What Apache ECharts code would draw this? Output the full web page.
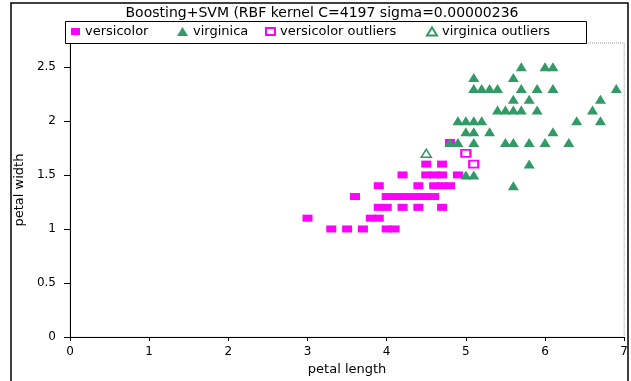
<!DOCTYPE html>
<html>
<head>
<meta charset="utf-8">
<title>Boosting+SVM</title>
<script src="https://cdn.jsdelivr.net/npm/echarts@6/dist/echarts.min.js"></script>
<style>
	html, body { margin: 0; padding: 0; background: #fff; }
	#chart { width: 631px; height: 381px; }
</style>
</head>
<body>
<div id="chart"></div>
<script>
// 데이터 [petal length, petal width]
var versicolor = [
	[3.3, 1.0], [3.5, 1.0], [3.7, 1.0], [4.0, 1.0], [4.1, 1.0],
	[3.0, 1.1], [3.8, 1.1], [3.9, 1.1],
	[3.9, 1.2], [4.0, 1.2], [4.2, 1.2], [4.4, 1.2], [4.7, 1.2],
	[3.6, 1.3], [4.0, 1.3], [4.1, 1.3], [4.2, 1.3], [4.3, 1.3], [4.4, 1.3], [4.5, 1.3], [4.6, 1.3],
	[3.9, 1.4], [4.4, 1.4], [4.6, 1.4], [4.7, 1.4], [4.8, 1.4],
	[4.2, 1.5], [4.5, 1.5], [4.6, 1.5], [4.7, 1.5], [4.9, 1.5],
	[4.5, 1.6], [4.7, 1.6],
	[4.8, 1.8]
];
var virginica = [
	[5.6, 1.4],
	[5.0, 1.5], [5.1, 1.5],
	[5.8, 1.6],
	[4.8, 1.8], [4.9, 1.8], [5.1, 1.8], [5.5, 1.8], [5.6, 1.8], [5.8, 1.8], [6.0, 1.8], [6.3, 1.8],
	[5.0, 1.9], [5.1, 1.9], [5.3, 1.9], [6.1, 1.9],
	[4.9, 2.0], [5.0, 2.0], [5.1, 2.0], [5.2, 2.0], [6.4, 2.0], [6.7, 2.0],
	[5.4, 2.1], [5.5, 2.1], [5.6, 2.1], [5.7, 2.1], [5.9, 2.1], [6.6, 2.1],
	[5.6, 2.2], [5.8, 2.2], [6.7, 2.2],
	[5.1, 2.3], [5.2, 2.3], [5.3, 2.3], [5.4, 2.3], [5.7, 2.3], [5.9, 2.3], [6.1, 2.3], [6.9, 2.3],
	[5.1, 2.4], [5.6, 2.4],
	[5.7, 2.5], [6.0, 2.5], [6.1, 2.5]
];
var versicolorOutliers = [[5.0, 1.7], [5.1, 1.6]];
var virginicaOutliers = [[4.5, 1.7]];

var seriesNames = ['versicolor', 'virginica', 'versicolor outliers', 'virginica outliers'];
var yTicks = [0, 0.5, 1, 1.5, 2, 2.5];

var MAGENTA = '#ff00ff';
var GREEN = '#339966';
var FONT = 'DejaVu Sans';

showIrisChart();

// 범례 하나 (항목별 위치 지정)
function legendItem(name, left, w, h) {
	return {
		data: [name],
		left: left,
		top: 25,
		padding: 0,
		itemWidth: w,
		itemHeight: h,
		itemGap: 0,
		selectedMode: false,
		textStyle: { fontFamily: FONT, fontSize: 13, color: '#000' }
	};
}

function showIrisChart() {
	var chart = echarts.init(document.getElementById('chart'), null, { renderer: 'canvas' });
	var option = {
		animation: false,
		backgroundColor: '#fff',
		title: {
			text: 'Boosting+SVM (RBF kernel C=4197 sigma=0.00000236',
			left: 322,
			textAlign: 'center',
			top: 6,
			padding: 0,
			textStyle: { fontFamily: FONT, fontSize: 14, fontWeight: 'normal', color: '#000' }
		},
		legend: [
			legendItem(seriesNames[0], 71, 9, 7),
			legendItem(seriesNames[1], 177, 11, 9),
			legendItem(seriesNames[2], 265, 9, 7),
			legendItem(seriesNames[3], 426, 10, 8)
		],
		graphic: [
			{ // 바깥 테두리
				type: 'rect', z: 0, silent: true,
				shape: { x: 11, y: 3, width: 617, height: 400 },
				style: { fill: null, stroke: '#000', lineWidth: 1.5 }
			},
			{ // 범례 박스
				type: 'rect', z: 3, silent: true,
				shape: { x: 65.5, y: 21.5, width: 521, height: 22 },
				style: { fill: '#fff', stroke: '#000', lineWidth: 1 }
			}
		],
		grid: {
			left: 70, right: 6, top: 43, bottom: 38,
			show: true,
			backgroundColor: '#fff',
			borderColor: '#999',
			borderWidth: 1,
			borderType: 'dotted'
		},
		xAxis: {
			type: 'value',
			min: 0, max: 7, interval: 1,
			name: 'petal length',
			nameLocation: 'middle',
			nameGap: 14,
			nameTextStyle: { fontFamily: FONT, fontSize: 13, color: '#000' },
			splitLine: { show: false },
			axisLine: { onZero: false, lineStyle: { color: '#000', width: 1 } },
			axisTick: { show: true, length: 4, lineStyle: { color: '#000' } },
			axisLabel: { fontFamily: FONT, fontSize: 12, color: '#000', margin: 9 }
		},
		yAxis: {
			type: 'value',
			min: 0, max: 2.72, interval: 0.5,
			name: 'petal width',
			nameLocation: 'middle',
			nameGap: 32,
			nameTextStyle: { fontFamily: FONT, fontSize: 13, color: '#000' },
			splitLine: { show: false },
			axisLine: { show: true, onZero: false, lineStyle: { color: '#000', width: 1 } },
			axisTick: { show: true, length: 6, customValues: yTicks, lineStyle: { color: '#000' } },
			axisLabel: { fontFamily: FONT, fontSize: 12, color: '#000', margin: 14, customValues: yTicks }
		},
		series: [
			{
				name: seriesNames[0],
				type: 'scatter',
				symbol: 'rect',
				symbolSize: [10, 7],
				itemStyle: { color: MAGENTA, opacity: 1 },
				data: versicolor
			},
			{
				name: seriesNames[1],
				type: 'scatter',
				symbol: 'triangle',
				symbolSize: [11, 9],
				itemStyle: { color: GREEN, opacity: 1 },
				data: virginica
			},
			{
				name: seriesNames[2],
				type: 'scatter',
				symbol: 'rect',
				symbolSize: [9, 7],
				itemStyle: { color: '#fff', borderColor: MAGENTA, borderWidth: 2, opacity: 1 },
				data: versicolorOutliers
			},
			{
				name: seriesNames[3],
				type: 'scatter',
				symbol: 'triangle',
				symbolSize: [10, 8],
				itemStyle: { color: '#fff', borderColor: GREEN, borderWidth: 1.5, opacity: 1 },
				data: virginicaOutliers
			}
		]
	};

	chart.setOption(option);
}
</script>
</body>
</html>
